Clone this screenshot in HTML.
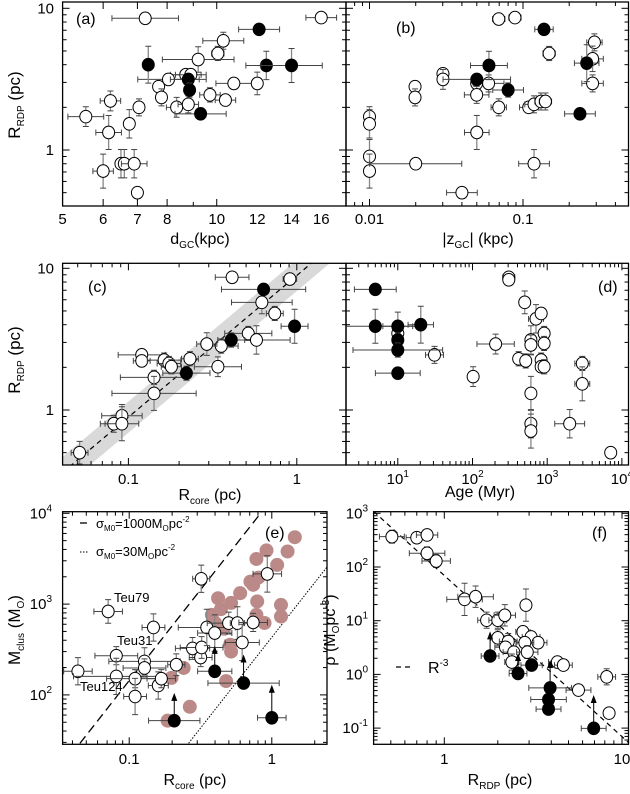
<!DOCTYPE html>
<html><head><meta charset="utf-8">
<style>
html,body{margin:0;padding:0;background:#fff;overflow:hidden;width:630px;height:794px;}
svg{display:block;font-family:"Liberation Sans",Arial,sans-serif;}
text{fill:#000;}
</style></head>
<body>
<svg id="fig" width="630" height="794" viewBox="0 0 630 794" xmlns="http://www.w3.org/2000/svg"></svg>
<script>
// ---------- Panel (a): R_RDP vs d_GC  [x, y, exDex, eyDex]
const aOpen = [[7.25,8.5,0.065,0.03],[16,8.6,0.03,0.02],[10.3,5.9,0.04,0.06],[10.05,4.8,0.012,0.05],[9.2,4.35,0.07,0.09],[8.7,3.4,0.03,0.04],[8.9,3.4,0.03,0.04],[8.05,3.15,0.06,0.04],[7.7,2.8,0.01,0.04],[7.8,2.35,0.01,0.06],[8.35,2.0,0.02,0.07],[8.8,2.1,0.02,0.06],[9.7,2.45,0.02,0.05],[10.4,2.25,0.02,0.04],[10.8,2.95,0.035,0.03],[12.0,2.95,0.01,0.08],[7.05,2.0,0.01,0.06],[6.2,2.22,0.02,0.07],[5.55,1.72,0.035,0.07],[6.75,1.53,0.01,0.1],[6.15,1.33,0.025,0.12],[6.0,0.71,0.02,0.12],[6.5,0.8,0.005,0.1],[6.6,0.8,0.005,0.1],[6.9,0.8,0.025,0.1],[7.0,0.5,0.01,0.04]];
const aFilled = [[7.35,4.0,0.01,0.13],[12.1,7.1,0.04,0.03],[12.5,3.95,0.04,0.1],[14.0,3.95,0.06,0.12],[8.8,3.15,0.035,0.04],[8.85,2.65,0.01,0.05],[9.3,1.8,0.05,0.04]];
const aXTicks = [5,6,7,8,10,12,14,16];
// ---------- Panel (b): R_RDP vs |z_GC|
const bOpen = [[0.0695,8.4,0.04,0.03],[0.0886,8.6,0.04,0.02],[0.148,4.8,0.04,0.05],[0.292,5.75,0.05,0.06],[0.284,4.4,0.07,0.09],[0.284,2.95,0.07,0.06],[0.0301,3.45,0.0,0.04],[0.0301,3.15,0.0,0.07],[0.0198,2.8,0.0,0.04],[0.0198,2.35,0.0,0.06],[0.0499,2.95,0.0,0.04],[0.0499,2.45,0.08,0.06],[0.0597,2.95,0.1,0.06],[0.0695,2.0,0.05,0.06],[0.109,2.0,0.06,0.04],[0.118,2.1,0.06,0.06],[0.131,2.2,0.04,0.06],[0.14,2.2,0.04,0.06],[0.05,1.33,0.08,0.12],[0.01,1.72,0.0,0.07],[0.01,1.53,0.0,0.1],[0.01,0.9,0.0,0.12],[0.01,0.71,0.0,0.12],[0.02,0.8,0.3,0.04],[0.118,0.8,0.1,0.1],[0.04,0.5,0.1,0.04]];
const bFilled = [[0.137,7.1,0.06,0.03],[0.06,3.95,0.12,0.1],[0.05,3.15,0.22,0.04],[0.08,2.65,0.1,0.05],[0.26,4.1,0.08,0.13],[0.235,1.8,0.1,0.04]];
const bXTicks = [0.01,0.1];
// ---------- Panel (c): R_RDP vs R_core
const cOpen = [[0.413,8.64,0.1,0.03],[0.91,8.4,0.04,0.03],[0.62,5.75,0.18,0.08],[0.74,4.8,0.05,0.05],[0.515,3.47,0.14,0.05],[0.576,3.12,0.2,0.1],[0.356,2.83,0.1,0.05],[0.292,2.92,0.06,0.08],[0.232,2.3,0.05,0.05],[0.34,2.02,0.14,0.07],[0.12,2.45,0.14,0.04],[0.12,2.22,0.05,0.04],[0.163,2.25,0.1,0.05],[0.174,2.13,0.07,0.05],[0.18,2.02,0.06,0.05],[0.142,1.7,0.2,0.05],[0.142,1.31,0.25,0.12],[0.0915,0.91,0.12,0.08],[0.0819,0.8,0.08,0.06],[0.0915,0.8,0.1,0.12],[0.0513,0.5,0.05,0.08]];
const cFilled = [[0.635,7.1,0.25,0.04],[0.97,3.9,0.08,0.12],[0.408,3.12,0.08,0.05],[0.221,1.82,0.14,0.05]];
const cFitRatio = 8.9;
const cBandDex = 0.11;
const cXTicks = [0.1,1];
// ---------- Panel (d): R_RDP vs Age
const dFilled = [[5,7.1,0.28,0.03],[5,3.9,0.6,0.12],[10,3.9,0.2,0.1],[10,3.12,0.0,0.05],[10,2.65,0.6,0.05],[10,1.82,0.3,0.04],[20.3,4.0,0.17,0.13]];
const dOpen = [[306,8.64,0.08,0.02],[306,8.3,0.0,0.02],[10,3.47,0.0,0.04],[31,2.45,0.12,0.06],[204,2.92,0.25,0.07],[102,1.72,0.05,0.07],[500,5.75,0.0,0.08],[708,4.4,0.1,0.1],[830,4.8,0.04,0.04],[605,3.12,0.05,0.1],[605,2.88,0.05,0.07],[910,3.47,0.02,0.05],[910,2.95,0.02,0.05],[415,2.3,0.05,0.05],[516,2.22,0.05,0.05],[830,2.25,0.03,0.05],[830,2.02,0.03,0.04],[910,2.02,0.02,0.05],[605,1.31,0.0,0.12],[605,0.8,0.0,0.1],[605,0.71,0.0,0.12],[2000,0.8,0.2,0.1],[2950,2.13,0.1,0.05],[2950,1.53,0.1,0.12],[7080,0.5,0.07,0.04]];
const dXTicks = [10,100,1000,10000];
// ---------- Panel (e): M_clus vs R_core
const eOpen = [[0.0712,830,0.1,0.13],[0.0437,182,0.1,0.15],[0.0812,270,0.15,0.1],[0.0812,160,0.3,0.2],[0.11,151,0.2,0.1],[0.11,96,0.08,0.2],[0.128,234,0.25,0.15],[0.128,198,0.15,0.1],[0.148,553,0.08,0.15],[0.16,127,0.07,0.15],[0.168,151,0.1,0.1],[0.214,215,0.06,0.12],[0.278,325,0.12,0.12],[0.317,258,0.08,0.1],[0.322,333,0.15,0.12],[0.35,553,0.2,0.2],[0.398,480,0.12,0.2],[0.32,1900,0.06,0.15],[0.498,618,0.15,0.12],[0.574,618,0.05,0.18],[0.62,378,0.12,0.2],[0.74,628,0.1,0.1],[0.93,2150,0.1,0.2]];
const eFilled = [[0.207,52,0.18,0.05],[0.398,182,0.12,0.04],[0.634,135,0.25,0.05],[1.0,56,0.1,0.05]];
const eFilledUpper = [100,330,265,123];
const eBrown = [[1.45,5450],[0.918,3900],[1.29,3800],[0.78,3140],[1.09,2700],[0.805,1960],[0.708,1770],[0.74,1630],[0.6,1320],[0.42,1160],[0.518,1030],[0.79,1070],[1.16,980],[1.16,730],[0.78,760],[0.38,760],[0.889,620],[0.51,357],[0.518,300],[0.478,142],[0.241,198],[0.198,154],[0.266,74],[0.186,52],[0.463,535],[0.4,620],[0.44,880]];
const eSigmaHigh = 1000;
const eSigmaLow = 30;
const eMassCoef = 14.37;
const eXTicks = [0.1,1];
const eYTicks = [100,1000,10000];
// ---------- Panel (f): density vs R_RDP
const fOpen = [[0.507,367,0.07,0.12],[0.70,352,0.06,0.1],[0.80,395,0.06,0.1],[0.80,180,0.1,0.12],[0.90,129,0.08,0.12],[1.30,25,0.1,0.3],[1.50,28,0.1,0.2],[1.73,10.2,0.05,0.15],[2.0,10.2,0.05,0.15],[2.19,12.6,0.06,0.2],[2.88,19.5,0.03,0.3],[2.0,4.8,0.04,0.15],[2.29,4.1,0.05,0.15],[2.21,3.2,0.06,0.1],[2.46,2.6,0.06,0.1],[2.4,1.7,0.04,0.15],[2.77,6.2,0.04,0.1],[3.08,5.0,0.05,0.1],[3.37,3.9,0.05,0.1],[2.84,3.9,0.05,0.1],[2.93,2.6,0.06,0.12],[4.33,1.7,0.05,0.1],[4.68,1.49,0.05,0.1],[5.69,0.51,0.07,0.1],[8.2,0.9,0.05,0.15],[8.46,0.19,0.03,0.1]];
const fFilled = [[1.81,2.2,0.05,0.0],[2.6,1.04,0.05,0.0],[3.1,1.49,0.06,0.0],[3.94,0.56,0.12,0.0],[3.86,0.34,0.1,0.0],[3.86,0.226,0.07,0.0],[6.93,0.099,0.07,0.0]];
const fFilledUpper = [5.8,2.3,1.49,1.7,0.34,0.226,0.38];
const fSlopeCoef = 69.4;
const fSlopeExp = -3;
const fXTicks = [1,10];
const fYTicks = [0.1,1,10,100,1000];
const rdpYTicks = [1,10];

// ---------- drawing
const NS = 'http://www.w3.org/2000/svg';
const svg = document.getElementById('fig');
function mk(tag, attrs, parent){
  const e = document.createElementNS(NS, tag);
  for (const k in attrs) e.setAttribute(k, attrs[k]);
  (parent||svg).appendChild(e);
  return e;
}
const L10 = Math.log10;
function makePanel(p){
  p.sx = v => p.xpx + (L10(v) - L10(p.xref)) * p.xdex;
  p.sy = v => p.ypx - (L10(v) - L10(p.yref)) * p.ydex;
  p.xv = px => Math.pow(10, L10(p.xref) + (px - p.xpx) / p.xdex);
  p.yv = py => Math.pow(10, L10(p.yref) - (py - p.ypx) / p.ydex);
  const g = mk('g', {});
  
  
  p.g = g;
  const cp = mk('clipPath', {id: 'clip-' + p.id}, g);
  mk('rect', {x: p.x0, y: p.y0, width: p.x1 - p.x0, height: p.y1 - p.y0}, cp);
  p.plot = mk('g', {'clip-path': 'url(#clip-' + p.id + ')'}, g);
  
  
  return p;
}
function frame(p){
  const r = mk('rect', {x: p.x0, y: p.y0, width: p.x1 - p.x0, height: p.y1 - p.y0, fill: 'none', stroke: '#000', 'stroke-width': 1.3}, p.g);
  
  
  const xa = L10(p.xv(p.x0)), xb = L10(p.xv(p.x1));
  for (let d = Math.floor(xa); d <= Math.ceil(xb); d++) for (let m = 1; m < 10; m++){
    const v = m * Math.pow(10, d); const px = p.sx(v);
    if (px < p.x0 + 0.5 || px > p.x1 - 0.5) continue;
    const len = (m === 1 || (p.linTicks && p.linTicks.includes(v))) ? 7 : 4;
    mk('line', {x1: px, y1: p.y1, x2: px, y2: p.y1 - len, stroke: '#000', 'stroke-width': 1}, p.g);
    mk('line', {x1: px, y1: p.y0, x2: px, y2: p.y0 + len, stroke: '#000', 'stroke-width': 1}, p.g);
  }
  const ya = L10(p.yv(p.y1)), yb = L10(p.yv(p.y0));
  for (let d = Math.floor(ya); d <= Math.ceil(yb); d++) for (let m = 1; m < 10; m++){
    const v = m * Math.pow(10, d); const py = p.sy(v);
    if (py < p.y0 + 0.5 || py > p.y1 - 0.5) continue;
    const len = m === 1 ? 7 : 4;
    mk('line', {x1: p.x0, y1: py, x2: p.x0 + len, y2: py, stroke: '#000', 'stroke-width': 1}, p.g);
    mk('line', {x1: p.x1, y1: py, x2: p.x1 - len, y2: py, stroke: '#000', 'stroke-width': 1}, p.g);
  }
}
function txt(parent, x, y, s, name, opts){
  const t = mk('text', Object.assign({x: x, y: y, 'font-size': 15}, opts || {}), parent);
  t.innerHTML = s;
  
  
  return t;
}
function pow10Label(v){
  const e = Math.round(L10(v));
  return '10<tspan dy="-7" font-size="10">' + e + '</tspan>';
}
function xTickLabels(p, ticks, fmt, y){
  ticks.forEach(v => {
    txt(p.g, p.sx(v), y, fmt ? fmt(v) : String(v), 'x-tick-label', {'text-anchor': 'middle'});
  });
}
function yTickLabels(p, ticks, fmt, x){
  ticks.forEach(v => {
    txt(p.g, x, p.sy(v) + 5, fmt ? fmt(v) : String(v), 'y-tick-label', {'text-anchor': 'end'});
  });
}
function point(p, d, filled, color, r){
  const [x, y, ex, ey] = d;
  const cx = p.sx(x), cy = p.sy(y);
  const g = mk('g', {}, p.plot);
  
  
  const ec = '#444';
  if (ex > 0){
    const xl = p.sx(x * Math.pow(10, -ex)), xh = p.sx(x * Math.pow(10, ex));
    mk('line', {x1: xl, y1: cy, x2: xh, y2: cy, stroke: ec, 'stroke-width': 1}, g);
    mk('line', {x1: xl, y1: cy - 3, x2: xl, y2: cy + 3, stroke: ec, 'stroke-width': 1}, g);
    mk('line', {x1: xh, y1: cy - 3, x2: xh, y2: cy + 3, stroke: ec, 'stroke-width': 1}, g);
  }
  if (ey > 0){
    const yl = p.sy(y * Math.pow(10, -ey)), yh = p.sy(y * Math.pow(10, ey));
    mk('line', {x1: cx, y1: yl, x2: cx, y2: yh, stroke: '#888', 'stroke-width': 1.3}, g);
    mk('line', {x1: cx - 3, y1: yl, x2: cx + 3, y2: yl, stroke: ec, 'stroke-width': 1}, g);
    mk('line', {x1: cx - 3, y1: yh, x2: cx + 3, y2: yh, stroke: ec, 'stroke-width': 1}, g);
  }
  mk('ellipse', {cx: cx, cy: cy, rx: r || 6, ry: r ? r : 6.3, fill: color || (filled ? '#000' : '#fff'), stroke: color ? 'none' : '#000', 'stroke-width': 1}, g);
}
function upArrow(p, x, y0, y1){
  const cx = p.sx(x), a = p.sy(y0), b = p.sy(y1);
  const g = mk('g', {}, p.plot);
  
  
  mk('line', {x1: cx, y1: a, x2: cx, y2: b + 4, stroke: '#000', 'stroke-width': 1}, g);
  mk('polygon', {points: (cx - 3) + ',' + (b + 6) + ' ' + (cx + 3) + ',' + (b + 6) + ' ' + cx + ',' + (b - 2), fill: '#000'}, g);
}
function lawLine(p, coef, ex, dash, name, w){
  const xa = p.xv(p.x0), xb = p.xv(p.x1);
  const l = mk('line', {x1: p.sx(xa), y1: p.sy(coef * Math.pow(xa, ex)), x2: p.sx(xb), y2: p.sy(coef * Math.pow(xb, ex)), stroke: '#000', 'stroke-width': w || 1.2, 'stroke-dasharray': dash}, p.plot);
  
  
}

// Panel a
const A = makePanel({id: 'a', x0: 62.6, x1: 346, y0: 2, y1: 206, xref: 5, xpx: 62.6, xdex: 512, yref: 10, ypx: 8.3, ydex: 141.7, linTicks: aXTicks});
aOpen.forEach(d => point(A, d, false));
aFilled.forEach(d => point(A, d, true));
frame(A);
xTickLabels(A, aXTicks, null, 224);
yTickLabels(A, rdpYTicks, null, 54);
txt(A.g, 76, 24, '(a)', 'panel-label-a', {'font-size': 16});
txt(A.g, 200, 244, 'd<tspan font-size="10" dy="4">GC</tspan><tspan dy="-4">(kpc)</tspan>', 'x-axis-title-a', {'text-anchor': 'middle', 'font-size': 16});
txt(A.g, 0, 0, 'R<tspan font-size="10" dy="4">RDP</tspan><tspan dy="-4">  (pc)</tspan>', 'y-axis-title-a', {'text-anchor': 'middle', 'font-size': 17, transform: 'translate(20,105) rotate(-90)'});

// Panel b
const B = makePanel({id: 'b', x0: 346, x1: 628.5, y0: 2, y1: 206, xref: 0.01, xpx: 369.5, xdex: 153.5, yref: 10, ypx: 8.3, ydex: 141.7});
bOpen.forEach(d => point(B, d, false));
bFilled.forEach(d => point(B, d, true));
frame(B);
xTickLabels(B, bXTicks, null, 224);
txt(B.g, 396, 33, '(b)', 'panel-label-b', {'font-size': 16});
txt(B.g, 478, 244, '|z<tspan font-size="10" dy="4">GC</tspan><tspan dy="-4">| (kpc)</tspan>', 'x-axis-title-b', {'text-anchor': 'middle', 'font-size': 16});

// Panel c
const C = makePanel({id: 'c', x0: 62.6, x1: 346, y0: 263.3, y1: 465, xref: 0.1, xpx: 128.4, xdex: 168.4, yref: 10, ypx: 268.3, ydex: 141.7});
(function(){
  const xa = C.xv(C.x0), xb = C.xv(C.x1);
  const f = Math.pow(10, cBandDex);
  const pts = [[xa, cFitRatio * xa * f], [xb, cFitRatio * xb * f], [xb, cFitRatio * xb / f], [xa, cFitRatio * xa / f]];
  const poly = mk('polygon', {points: pts.map(q => C.sx(q[0]) + ',' + C.sy(q[1])).join(' '), fill: '#d9d9d9'}, C.plot);
  
  
})();
lawLine(C, cFitRatio, 1, '5,4', 'fit-line');
cOpen.forEach(d => point(C, d, false));
cFilled.forEach(d => point(C, d, true));
frame(C);
xTickLabels(C, cXTicks, null, 484);
yTickLabels(C, rdpYTicks, null, 54);
txt(C.g, 88, 292, '(c)', 'panel-label-c', {'font-size': 16});
txt(C.g, 210, 500, 'R<tspan font-size="10" dy="4">core</tspan><tspan dy="-4"> (pc)</tspan>', 'x-axis-title-c', {'text-anchor': 'middle', 'font-size': 16});
txt(C.g, 0, 0, 'R<tspan font-size="10" dy="4">RDP</tspan><tspan dy="-4">  (pc)</tspan>', 'y-axis-title-c', {'text-anchor': 'middle', 'font-size': 17, transform: 'translate(20,360) rotate(-90)'});

// Panel d
const D = makePanel({id: 'd', x0: 346, x1: 628.5, y0: 263.3, y1: 465, xref: 10, xpx: 397.8, xdex: 74.7, yref: 10, ypx: 268.3, ydex: 141.7});
dOpen.forEach(d => point(D, d, false));
dFilled.forEach(d => point(D, d, true));
frame(D);
xTickLabels(D, dXTicks, pow10Label, 484);
txt(D.g, 598, 292, '(d)', 'panel-label-d', {'font-size': 16});
txt(D.g, 480, 497, 'Age (Myr)', 'x-axis-title-d', {'text-anchor': 'middle', 'font-size': 16});

// Panel e
const E = makePanel({id: 'e', x0: 62.6, x1: 327, y0: 511.7, y1: 744.3, xref: 0.1, xpx: 129.2, xdex: 142.6, yref: 10000, ypx: 513.3, ydex: 90.8});
lawLine(E, eSigmaHigh * eMassCoef, 2, '9,5', 'sigma-1000-line', 1.3);
lawLine(E, eSigmaLow * eMassCoef, 2, '1.5,1.5', 'sigma-30-line', 1);
eBrown.forEach(d => point(E, [d[0], d[1], 0, 0], true, '#bb8a88', 7));
eOpen.forEach(d => point(E, d, false));
eFilled.forEach((d, i) => { upArrow(E, d[0], d[1], eFilledUpper[i]); point(E, d, true); });
frame(E);
xTickLabels(E, eXTicks, null, 764);
yTickLabels(E, eYTicks, pow10Label, 52);
txt(E.g, 265, 538, '(e)', 'panel-label-e', {'font-size': 16});
(function(){
  const l1 = mk('line', {x1: 80, y1: 523, x2: 87, y2: 523, stroke: '#000', 'stroke-width': 1.3}, E.g);
  
  
  const l2 = mk('line', {x1: 80, y1: 552, x2: 88, y2: 552, stroke: '#000', 'stroke-width': 1, 'stroke-dasharray': '1.5,1.5'}, E.g);
  
  
})();
txt(E.g, 96, 528, 'σ<tspan font-size="8" dy="3">M0</tspan><tspan dy="-3">=1000M</tspan><tspan font-size="8" dy="3">O</tspan><tspan dy="-3">pc</tspan><tspan font-size="8" dy="-6">-2</tspan>', 'legend-entry-1000', {'font-size': 13});
txt(E.g, 96, 556, 'σ<tspan font-size="8" dy="3">M0</tspan><tspan dy="-3">=30M</tspan><tspan font-size="8" dy="3">O</tspan><tspan dy="-3">pc</tspan><tspan font-size="8" dy="-6">-2</tspan>', 'legend-entry-30', {'font-size': 13});
txt(E.g, 114, 602, 'Teu79', 'annotation-teu79', {'font-size': 13});
txt(E.g, 117, 645, 'Teu31', 'annotation-teu31', {'font-size': 13});
txt(E.g, 80, 691, 'Teu124', 'annotation-teu124', {'font-size': 13});
txt(E.g, 195, 785, 'R<tspan font-size="10" dy="4">core</tspan><tspan dy="-4"> (pc)</tspan>', 'x-axis-title-e', {'text-anchor': 'middle', 'font-size': 16});
txt(E.g, 0, 0, 'M<tspan font-size="10" dy="4">clus</tspan><tspan dy="-4"> (M</tspan><tspan font-size="10" dy="4">O</tspan><tspan dy="-4">)</tspan>', 'y-axis-title-e', {'text-anchor': 'middle', 'font-size': 17, transform: 'translate(20,630) rotate(-90)'});

// Panel f
const F = makePanel({id: 'f', x0: 373.6, x1: 628.5, y0: 511.7, y1: 744.3, xref: 1, xpx: 444.3, xdex: 177.7, yref: 1000, ypx: 513.3, ydex: 53.7});
lawLine(F, fSlopeCoef, fSlopeExp, '5,4', 'r-minus-3-line');
fOpen.forEach(d => point(F, d, false));
fFilled.forEach((d, i) => { upArrow(F, d[0], d[1], fFilledUpper[i]); point(F, d, true); });
frame(F);
xTickLabels(F, fXTicks, null, 764);
yTickLabels(F, fYTicks, pow10Label, 368);
txt(F.g, 592, 538, '(f)', 'panel-label-f', {'font-size': 16});
(function(){
  const l = mk('line', {x1: 396, y1: 667, x2: 414, y2: 667, stroke: '#000', 'stroke-width': 1.3, 'stroke-dasharray': '5,4'}, F.g);
  
  
})();
txt(F.g, 428, 673, 'R<tspan font-size="10" dy="-7">-3</tspan>', 'legend-entry-r-minus-3', {'font-size': 16});
txt(F.g, 500, 785, 'R<tspan font-size="10" dy="4">RDP</tspan><tspan dy="-4"> (pc)</tspan>', 'x-axis-title-f', {'text-anchor': 'middle', 'font-size': 16});
txt(F.g, 0, 0, 'ρ (M<tspan font-size="10" dy="4">O</tspan><tspan dy="-4">pc</tspan><tspan font-size="10" dy="-6">-3</tspan><tspan dy="6">)</tspan>', 'y-axis-title-f', {'text-anchor': 'middle', 'font-size': 16, transform: 'translate(335,630) rotate(-90)'});
</script>
</body></html>
